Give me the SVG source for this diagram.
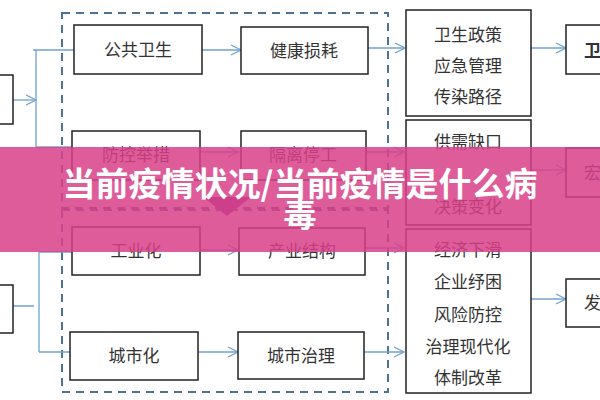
<svg xmlns="http://www.w3.org/2000/svg" width="600" height="400" viewBox="0 0 600 400">
<defs>
<style>
.b{fill:#fff;stroke:#222;stroke-width:1.5}
.t{font-family:"Noto Sans CJK SC",sans-serif;font-size:17px;fill:#333;text-anchor:middle}
.c{stroke:#6fa3d0;stroke-width:1.3;fill:none}
.d{fill:none;stroke:#4a7396;stroke-width:2;stroke-dasharray:8 6}
.h{font-family:"Noto Sans CJK SC",sans-serif;font-size:33px;font-weight:bold;fill:#fff;text-anchor:middle}
</style>
<marker id="a" viewBox="0 0 12 12" refX="11" refY="6" markerWidth="12" markerHeight="12" markerUnits="userSpaceOnUse" orient="auto"><path d="M1,1 L11,6 L1,11" fill="none" stroke="#6fa3d0" stroke-width="1.3"/></marker>
</defs>
<rect width="600" height="400" fill="#fff"/>
<rect class="d" x="62" y="13" width="326" height="195"/>
<rect class="d" x="62" y="210" width="326" height="182"/>
<g id="connectors">
<path class="c" d="M13,100 H36" marker-end="url(#a)"/>
<path class="c" d="M33,50 H74 M36,50 V147 H72"/>
<path class="c" d="M10,306 H34 M39,252 V352 M39,252 H72 M39,352 H70"/>
<path class="c" d="M202,50 H241" marker-end="url(#a)"/>
<path class="c" d="M200,152 H238" marker-end="url(#a)"/>
<path class="c" d="M200,250 H238" marker-end="url(#a)"/>
<path class="c" d="M198,352 H238" marker-end="url(#a)"/>
<path class="c" d="M368,48 H405" marker-end="url(#a)"/>
<path class="c" d="M366,152 H404" marker-end="url(#a)"/>
<path class="c" d="M365,248 H404" marker-end="url(#a)"/>
<path class="c" d="M364,352 H404" marker-end="url(#a)"/>
<path class="c" d="M531,48 H566" marker-end="url(#a)"/>
<path class="c" d="M531,170 H566" marker-end="url(#a)"/>
<path class="c" d="M531,299 H566" marker-end="url(#a)"/>
</g>
<g id="left1"><rect class="b" x="-5" y="75" width="18" height="49"/></g>
<g id="left2"><rect class="b" x="-5" y="285" width="18" height="48"/></g>
<g id="n1"><rect class="b" x="74" y="25" width="128" height="49"/><text class="t" x="138" y="56">公共卫生</text></g>
<g id="n2"><rect class="b" x="241" y="27" width="127" height="47"/><text class="t" x="304" y="57">健康损耗</text></g>
<g id="n3"><rect class="b" x="72" y="131" width="128" height="49"/><text class="t" x="136" y="161">防控举措</text></g>
<g id="n4"><rect class="b" x="241" y="131" width="125" height="49"/><text class="t" x="303" y="161">隔离停工</text></g>
<g id="n5"><rect class="b" x="72" y="227" width="128" height="48"/><text class="t" x="136" y="257">工业化</text></g>
<g id="n6"><rect class="b" x="239" y="228" width="126" height="47"/><text class="t" x="302" y="257">产业结构</text></g>
<g id="n7"><rect class="b" x="70" y="332" width="128" height="48"/><text class="t" x="134" y="362">城市化</text></g>
<g id="n8"><rect class="b" x="238" y="332" width="126" height="47"/><text class="t" x="301" y="362">城市治理</text></g>
<g id="r1"><rect class="b" x="406" y="10" width="125" height="106"/>
<text class="t" x="468" y="41">卫生政策</text><text class="t" x="468" y="72">应急管理</text><text class="t" x="468" y="103">传染路径</text></g>
<g id="r2"><rect class="b" x="406" y="120" width="125" height="105"/>
<text class="t" x="468" y="148">供需缺口</text><text class="t" x="468" y="213">决策变化</text></g>
<g id="r3"><rect class="b" x="406" y="229" width="125" height="164"/>
<text class="t" x="468" y="256">经济下滑</text><text class="t" x="468" y="288">企业纾困</text><text class="t" x="468" y="321">风险防控</text><text class="t" x="468" y="353">治理现代化</text><text class="t" x="468" y="384">体制改革</text></g>
<g id="f1"><rect class="b" x="566" y="25" width="40" height="49"/><text class="t" x="584" y="57" style="font-weight:bold;text-anchor:start">卫</text></g>
<g id="f2"><rect class="b" x="566" y="148" width="40" height="49"/><text class="t" x="584" y="179" style="text-anchor:start">宏</text></g>
<g id="f3"><rect class="b" x="566" y="279" width="40" height="48"/><text class="t" x="584" y="309" style="text-anchor:start">发</text></g>
<path d="M203,197 H251 L227,216 Z" fill="#8a3f9a"/>
<rect x="0" y="147" width="600" height="105" fill="#d83f88" fill-opacity="0.85"/>
<text class="h" x="300" y="196">当前疫情状况/当前疫情是什么病</text>
<text class="h" x="300" y="227">毒</text>
</svg>
